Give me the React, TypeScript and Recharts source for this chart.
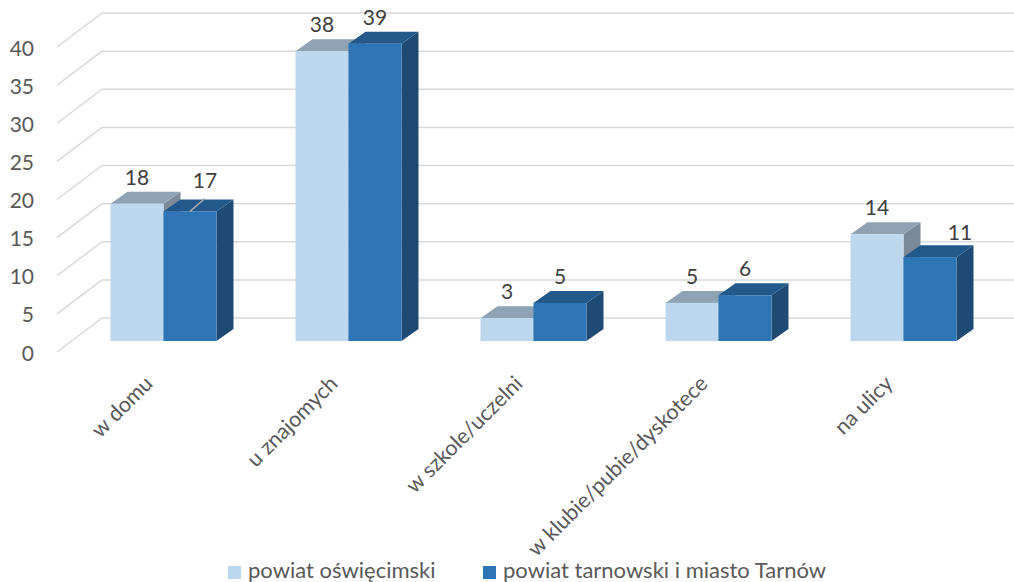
import React from 'react';
import { BarChart, Bar, XAxis, YAxis, CartesianGrid, LabelList } from 'recharts';

const categories = [
    'w domu',
    'u znajomych',
    'w szkole/uczelni',
    'w klubie/pubie/dyskotece',
    'na ulicy',
];
const oswiecimski = [18, 38, 3, 5, 14];
const tarnowski = [17, 39, 5, 6, 11];
const seriesNames = ['powiat oświęcimski', 'powiat tarnowski i miasto Tarnów'];
const yTicks = [0, 5, 10, 15, 20, 25, 30, 35, 40];

const data = categories.map((name, i) => ({
    name,
    oswiecimski: oswiecimski[i],
    tarnowski: tarnowski[i],
}));

const FONT = 'Lato, "Open Sans", sans-serif';
const TEXT = '#595959';
const GRID = '#d9d9d9';

// 3d offsets: bar depth, back wall and front axis edge relative to bar front plane
const BAR_DX = 17;
const BAR_DY = -12;
const WALL_DX = 31.5;
const WALL_DY = -23;
const AXIS_DX = -13.5;
const AXIS_DY = 11;

const colors = {
    light: { front: '#bdd7ee', top: '#8fa3b5', side: '#7a8a99' },
    dark: { front: '#2e75b6', top: '#22598a', side: '#1f4a73' },
};

function bar3d(c: { front: string; top: string; side: string }) {
    return (props: any) => {
        const { x, y, width, height } = props;
        const b = y + height;
        const r = x + width;
        return (
            <g>
                <polygon
                    points={`${r},${y} ${r + BAR_DX},${y + BAR_DY} ${r + BAR_DX},${b + BAR_DY} ${r},${b}`}
                    fill={c.side}
                />
                <polygon
                    points={`${x},${y} ${x + BAR_DX},${y + BAR_DY} ${r + BAR_DX},${y + BAR_DY} ${r},${y}`}
                    fill={c.top}
                />
                <rect x={x} y={y} width={width} height={height} fill={c.front} />
            </g>
        );
    };
}

// labels Excel moved off the bar
const darkNudge: Record<number, [number, number]> = { 0: [15, -4], 4: [30, 2] };

function valueLabel(nudge: Record<number, [number, number]>) {
    return (props: any) => {
        const { x, y, width, value, index } = props;
        const [nx, ny] = nudge[index] || [0, 0];
        const cx = x + width / 2;
        return (
            <g>
                {index === 0 && nx !== 0 && (
                    <line x1={cx} y1={y} x2={cx + nx} y2={y - 13} stroke="#a6a6a6" strokeWidth={1.5} />
                )}
                <text
                    x={cx + nx}
                    y={y - 19 + ny}
                    textAnchor="middle"
                    fontSize={21}
                    fontFamily={FONT}
                    fill="#404040"
                >
                    {value}
                </text>
            </g>
        );
    };
}

const gridLine = (props: any) => {
    const { x1, x2, y1, index } = props;
    return (
        <g key={`grid-${index}`}>
            <line
                x1={x1 + AXIS_DX}
                y1={y1 + AXIS_DY}
                x2={x1 + WALL_DX}
                y2={y1 + WALL_DY}
                stroke={GRID}
                strokeWidth={1.5}
            />
            <line
                x1={x1 + WALL_DX}
                y1={y1 + WALL_DY}
                x2={x2 + WALL_DX}
                y2={y1 + WALL_DY}
                stroke={GRID}
                strokeWidth={1.5}
            />
        </g>
    );
};

const YTick = (props: any) => {
    const { y, payload } = props;
    return (
        <text
            x={34}
            y={y + AXIS_DY}
            textAnchor="end"
            dominantBaseline="central"
            fontSize={21}
            fontFamily={FONT}
            fill={TEXT}
        >
            {payload.value}
        </text>
    );
};

const XTick = (props: any) => {
    const { x, y, payload } = props;
    const tx = x - 9;
    const ty = y + 44;
    return (
        <text
            x={tx}
            y={ty}
            textAnchor="end"
            transform={`rotate(-45, ${tx}, ${ty})`}
            fontSize={21.5}
            fontFamily={FONT}
            fill={TEXT}
        >
            {payload.value}
        </text>
    );
};

const legendItems = [
    { name: seriesNames[0], color: colors.light.front, left: 228 },
    { name: seriesNames[1], color: colors.dark.front, left: 483 },
];

export default function App() {
    return (
        <div
            style={{
                position: 'absolute',
                left: 0,
                top: 0,
                width: 1014,
                height: 582,
                background: '#fff',
                fontFamily: FONT,
                overflow: 'hidden',
            }}
        >
            <BarChart
                width={1014}
                height={582}
                data={data}
                margin={{ top: 36, right: 18.5, bottom: 181, left: 0 }}
                barGap={0}
                barSize={53}
            >
                <CartesianGrid vertical={false} horizontal={gridLine} />
                <XAxis
                    dataKey="name"
                    axisLine={false}
                    tickLine={false}
                    tickSize={0}
                    tickMargin={0}
                    interval={0}
                    height={60}
                    tick={<XTick />}
                />
                <YAxis
                    domain={[0, 40]}
                    ticks={yTicks}
                    width={70.5}
                    axisLine={false}
                    tickLine={false}
                    tick={<YTick />}
                />
                <Bar
                    dataKey="oswiecimski"
                    name={seriesNames[0]}
                    shape={bar3d(colors.light)}
                    isAnimationActive={false}
                >
                    <LabelList dataKey="oswiecimski" content={valueLabel({})} />
                </Bar>
                <Bar
                    dataKey="tarnowski"
                    name={seriesNames[1]}
                    shape={bar3d(colors.dark)}
                    isAnimationActive={false}
                >
                    <LabelList dataKey="tarnowski" content={valueLabel(darkNudge)} />
                </Bar>
            </BarChart>
            {legendItems.map((item) => (
                <div
                    key={item.name}
                    style={{
                        position: 'absolute',
                        left: item.left,
                        top: 559,
                        display: 'flex',
                        alignItems: 'flex-start',
                        fontSize: 22,
                        lineHeight: '22px',
                        color: TEXT,
                        whiteSpace: 'nowrap',
                    }}
                >
                    <span
                        style={{
                            display: 'inline-block',
                            width: 13,
                            height: 13,
                            marginTop: 7,
                            marginRight: 7,
                            background: item.color,
                        }}
                    />
                    <span>{item.name}</span>
                </div>
            ))}
        </div>
    );
}
